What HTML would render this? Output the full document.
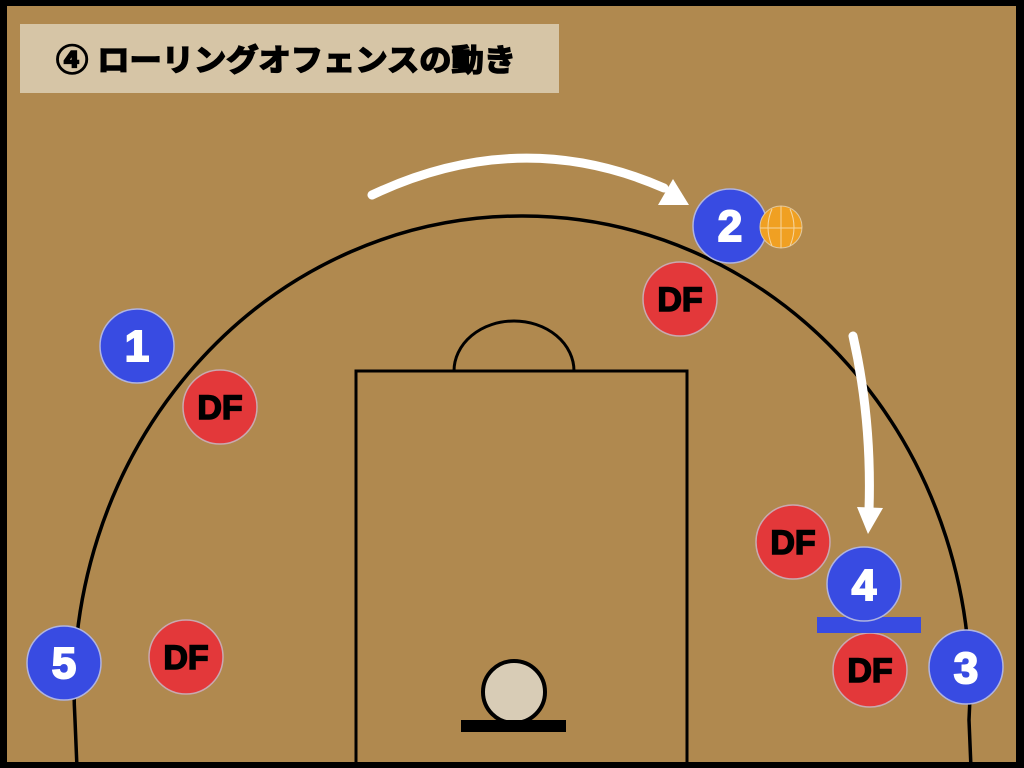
<!DOCTYPE html>
<html><head><meta charset="utf-8"><style>
html,body{margin:0;padding:0;background:#000;}
svg{display:block;}
</style></head><body>
<svg width="1024" height="768" viewBox="0 0 1024 768" xmlns="http://www.w3.org/2000/svg">
<rect x="0" y="0" width="1024" height="768" fill="#000"/>
<rect x="7" y="6" width="1009" height="756" fill="#B0894F"/>
<rect x="20" y="24" width="539" height="69" fill="#D6C5A6"/>
<text x="56" y="71" font-family="'Liberation Sans','Noto Sans CJK JP',sans-serif" font-weight="bold" font-size="30.5" fill="#000" stroke="#000" stroke-width="1.6" textLength="460" lengthAdjust="spacingAndGlyphs">④ ローリングオフェンスの動き</text>
<path d="M 77 768 L 75 720 A 447 474 0 0 1 521 216 A 447 474 0 0 1 969 720 L 971 768" fill="none" stroke="#000" stroke-width="3.5"/>
<path d="M 356 768 L 356 371 L 687 371 L 687 768" fill="none" stroke="#000" stroke-width="3"/>
<path d="M 454 371 A 60 50 0 0 1 574 371" fill="none" stroke="#000" stroke-width="3"/>
<circle cx="514" cy="692" r="31" fill="#D8CCB6" stroke="#000" stroke-width="4"/>
<rect x="461" y="720" width="105" height="12" fill="#000"/>
<path d="M 372 195 Q 520 125 664 188" fill="none" stroke="#fff" stroke-width="9" stroke-linecap="round"/>
<polygon points="689,205 658,205 673,179" fill="#fff"/>
<path d="M 853 336 Q 872 420 869 510" fill="none" stroke="#fff" stroke-width="9" stroke-linecap="round"/>
<polygon points="857,507 883,508 868,534" fill="#fff"/>
<g fill="#E3383A" stroke="#c9a9b0" stroke-width="1.5">
<circle cx="680" cy="299" r="37"/>
<circle cx="220" cy="407" r="37"/>
<circle cx="186" cy="657" r="37"/>
<circle cx="793" cy="542" r="37"/>
<circle cx="870" cy="670" r="37"/>
</g>
<g font-family="'Liberation Sans',sans-serif" font-weight="bold" font-size="34" fill="#000" stroke="#000" stroke-width="1.5" text-anchor="middle">
<text x="680" y="311">DF</text>
<text x="220" y="419">DF</text>
<text x="186" y="669">DF</text>
<text x="793" y="554">DF</text>
<text x="870" y="682">DF</text>
</g>
<rect x="817" y="617" width="104" height="16" fill="#384BE2"/>
<g fill="#384BE2" stroke="#b0b4e0" stroke-width="1.5">
<circle cx="137" cy="346" r="37"/>
<circle cx="730" cy="226" r="37"/>
<circle cx="64" cy="663" r="37"/>
<circle cx="864" cy="584" r="37"/>
<circle cx="966" cy="667" r="37"/>
</g>
<g font-family="'Liberation Sans',sans-serif" font-weight="bold" font-size="44" fill="#fff" stroke="#fff" stroke-width="2" text-anchor="middle">
<text x="137" y="361">1</text>
<text x="730" y="241">2</text>
<text x="64" y="678">5</text>
<text x="864" y="600">4</text>
<text x="966" y="683">3</text>
</g>
<circle cx="781" cy="227" r="21" fill="#F0A022" stroke="#e0c8a0" stroke-width="1"/>
<g fill="none" stroke="#f6d6a0" stroke-width="1">
<line x1="760" y1="228" x2="802" y2="228"/>
<line x1="781" y1="206" x2="781" y2="248"/>
<path d="M 772 209 Q 764 227 772 246"/>
<path d="M 790 209 Q 798 227 790 246"/>
</g>
</svg>
</body></html>
